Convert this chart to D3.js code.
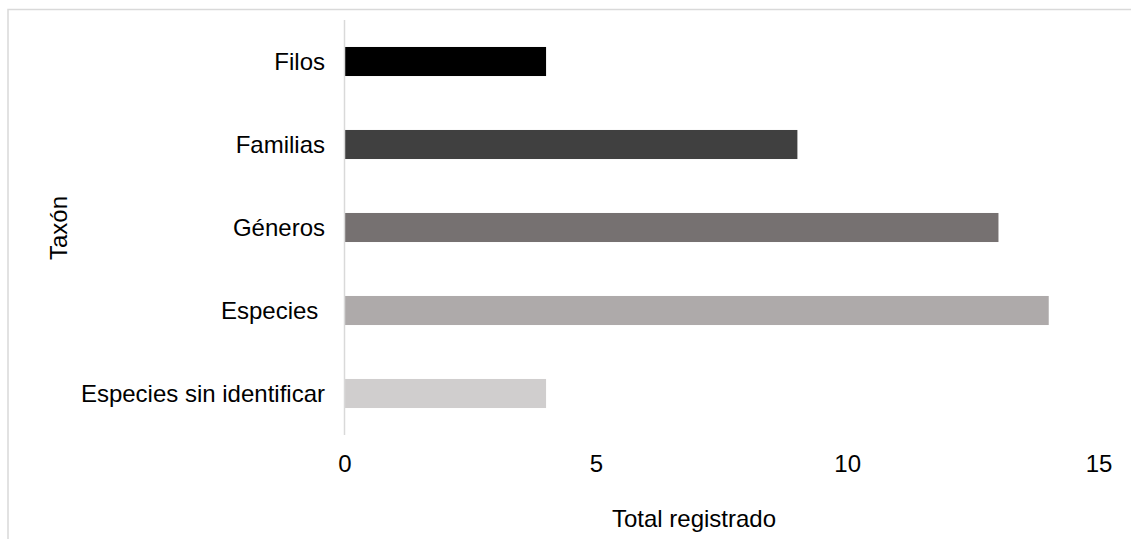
<!DOCTYPE html>
<html><head><meta charset="utf-8">
<script src="https://cdn.jsdelivr.net/npm/d3@7"></script>
<style>body{margin:0;background:#fff}svg{display:block}text{font-family:"Liberation Sans",Arial,sans-serif;fill:#000}</style>
</head><body><svg id="c" width="1131" height="539"></svg>
<script>
const categories = ["Filos","Familias","Géneros","Especies ","Especies sin identificar"];
const values = [4,9,13,14,4];
const colors = ["#000000","#404040","#767171","#aeaaaa","#d0cece"];
const ticks = [0,5,10,15];
const xTitle = "Total registrado";
const yTitle = "Taxón";

const svg = d3.select("#c");
const fs = 24;
// outer frame
svg.append("path").attr("d","M8,545 V9.5 H1140").attr("fill","none").attr("stroke","#d9d9d9").attr("stroke-width",1.5);

const x = d3.scaleLinear().domain([0,15]).range([345,1099]);
const y = d3.scaleBand().domain(categories).range([20,435]).paddingInner(0.65).paddingOuter(0.325);

svg.selectAll("rect.bar").data(categories).enter().append("rect")
  .attr("class","bar")
  .attr("x",x(0)).attr("y",d=>y(d))
  .attr("width",(d,i)=>x(values[i])-x(0)).attr("height",y.bandwidth())
  .attr("fill",(d,i)=>colors[i]);

// y axis line
svg.append("line").attr("x1",344.5).attr("x2",344.5).attr("y1",20).attr("y2",435)
  .attr("stroke","#d9d9d9").attr("stroke-width",1.5);

svg.selectAll("text.cat").data(categories).enter().append("text")
  .attr("class","cat").attr("x",325).attr("y",d=>y(d)+y.bandwidth()/2)
  .attr("dy","0.35em").attr("text-anchor","end").style("white-space","pre")
  .attr("font-size",fs).text(d=>d);

svg.selectAll("text.tick").data(ticks).enter().append("text")
  .attr("class","tick").attr("x",d=>x(d)).attr("y",472)
  .attr("text-anchor","middle").attr("font-size",fs).text(d=>d);

svg.append("text").attr("x",694).attr("y",527).attr("text-anchor","middle")
  .attr("font-size",fs).text(xTitle);
svg.append("text").attr("transform","translate(67,228) rotate(-90)").attr("text-anchor","middle")
  .attr("font-size",fs).text(yTitle);
</script></body></html>
